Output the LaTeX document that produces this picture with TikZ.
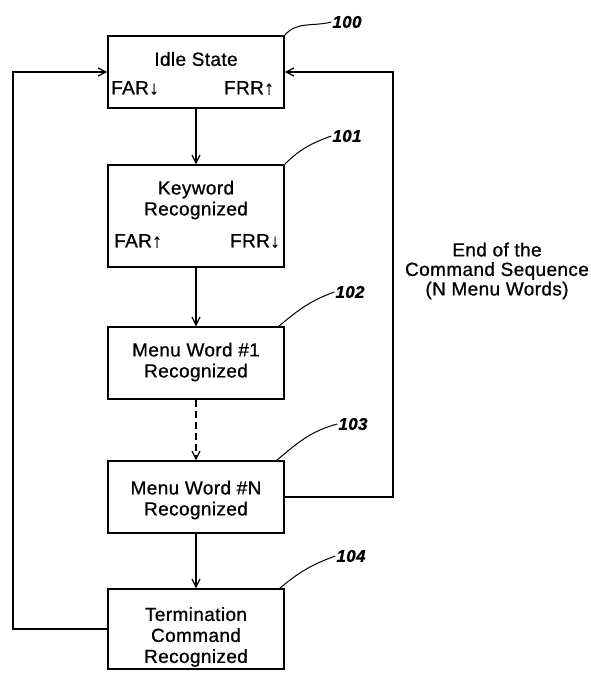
\documentclass[tikz,border=0pt]{standalone}
\usepackage{fontspec}
\setmainfont{Liberation Sans}[FakeBold=0.8, LetterSpace=2]
\usetikzlibrary{arrows.meta, positioning}

\begin{document}
\begin{tikzpicture}[x=1pt, y=1pt,
    statebox/.style={rectangle, draw, line width=1.2pt, minimum width=176pt,
                     minimum height=#1, inner sep=0pt},
    statebox/.default=72pt,
    boxtext/.style={align=center, inner sep=0pt,
                    font=\fontsize{19}{21}\selectfont},
    reftag/.style={inner sep=1pt, font=\fontsize{17}{20}\selectfont\bfseries\itshape},
    flow/.style={draw, line width=1.2pt, -{Straight Barb[length=8pt, width=8pt]}},
    leader/.style={draw, line width=1pt},
]
\useasboundingbox (0,0) rectangle (591,-677);

% states
\node[statebox] (s100) at (196,-72) {};
\node[statebox=102pt] (s101) at (196,-216) {};
\node[statebox] (s102) at (196,-363) {};
\node[statebox] (s103) at (196,-497) {};
\node[statebox=80pt] (s104) at (196,-629) {};

% texts in the states
\node[boxtext] (t100) at (196,-59) {Idle State};
\node[boxtext, anchor=west] (far100) at (111,-88) {FAR↓};
\node[boxtext, anchor=east] (frr100) at (274,-88) {FRR↑};
\node[boxtext] (t101) at (196,-200) {Keyword\\Recognized};
\node[boxtext, anchor=west] (far101) at (114,-241) {FAR↑};
\node[boxtext, anchor=east] (frr101) at (280,-241) {FRR↓};
\node[boxtext] (t102) at (196,-362) {Menu Word \#1\\Recognized};
\node[boxtext] (t103) at (196,-500) {Menu Word \#N\\Recognized};
\node[boxtext] (t104) at (196,-637) {Termination\\Command\\Recognized};

\node[boxtext, font=\fontsize{19}{19.5}\selectfont] (endseq) at (497,-271)
    {End of the\\Command Sequence\\(N Menu Words)};

% reference numerals
\node[reftag] (l100) at (347,-22) {100};
\node[reftag] (l101) at (347,-136) {101};
\node[reftag] (l102) at (350,-292) {102};
\node[reftag] (l103) at (353,-424) {103};
\node[reftag] (l104) at (351,-556) {104};

\draw[leader] (s100.north east) to[out=50, in=195] (l100.west);
\draw[leader] (s101.north east) to[out=45, in=200] (l101.west);
\draw[leader] ([xshift=-6pt]s102.north east) to[out=40, in=200] (l102.west);
\draw[leader] ([xshift=-8pt]s103.north east) to[out=40, in=195] (l103.west);
\draw[leader] ([xshift=-5pt]s104.north east) to[out=40, in=200] (l104.west);

% flow
\draw[flow] (s100) -- (s101);
\draw[flow] (s101) -- (s102);
\draw[flow, dash pattern=on 7pt off 4pt] (s102) -- (s103);
\draw[flow] (s103) -- (s104);

\coordinate (loopL) at (13,0);
\coordinate (loopR) at (393,0);
\draw[flow] (s104.west) -- (s104.west -| loopL) |- (s100.west);
\draw[flow] (s103.east) -- (s103.east -| loopR) |- (s100.east);

\end{tikzpicture}
\end{document}
